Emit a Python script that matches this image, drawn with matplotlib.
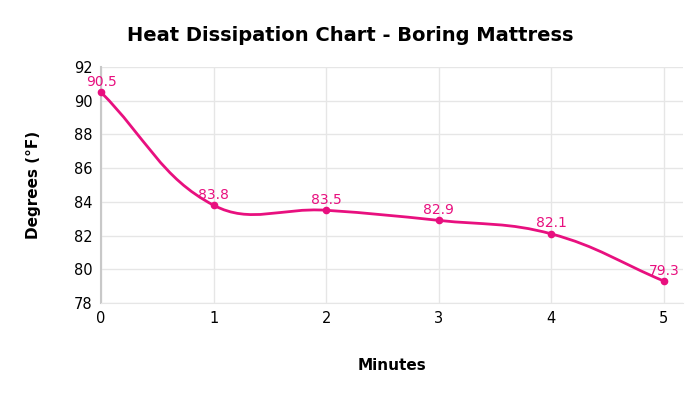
import numpy as np
import matplotlib
matplotlib.use("Agg")
import matplotlib.pyplot as plt
from matplotlib.path import Path
from matplotlib.patches import PathPatch

minutes = [0, 1, 2, 3, 4, 5]
degrees = [90.5, 83.8, 83.5, 82.9, 82.1, 79.3]
labels = ["90.5", "83.8", "83.5", "82.9", "82.1", "79.3"]
yticks = [78, 80, 82, 84, 86, 88, 90, 92]

pink = "#e8107f"
plt.rcParams['font.family'] = ['DejaVu Sans']

fig = plt.figure(figsize=(7, 3.94), dpi=100)
ax = fig.add_axes([0.1443, 0.231, 0.8314, 0.599])
ax.set_xlim(0, 5.17)
ax.set_ylim(78, 92)
ax.set_yticks(yticks)
ax.set_xticks(minutes)
ax.grid(True, color="#e6e6e6", linewidth=1)
ax.set_axisbelow(True)
for s in ["top", "right"]:
    ax.spines[s].set_visible(False)
ax.spines["left"].set_color("#c8c8c8")
ax.spines["left"].set_linewidth(1.5)
ax.spines["bottom"].set_color("#e6e6e6")
ax.tick_params(length=0, labelsize=10.5, colors="black", pad=6)

# Chart.js-style cardinal spline in pixel space
fig.canvas.draw()
pts = ax.transData.transform(np.column_stack([minutes, degrees]))
t = 0.4
n = len(pts)
verts = [tuple(pts[0])]
codes = [Path.MOVETO]
cps = []
for i in range(n):
    prev = pts[max(i - 1, 0)]
    cur = pts[i]
    nxt = pts[min(i + 1, n - 1)]
    d01 = np.hypot(*(cur - prev))
    d12 = np.hypot(*(nxt - cur))
    tot = d01 + d12
    s01 = d01 / tot if tot else 0
    s12 = d12 / tot if tot else 0
    fa, fb = t * s01, t * s12
    cps.append((cur - fa * (nxt - prev), cur + fb * (nxt - prev)))
for i in range(1, n):
    verts += [tuple(cps[i - 1][1]), tuple(cps[i][0]), tuple(pts[i])]
    codes += [Path.CURVE4] * 3
inv = ax.transData.inverted()
verts_d = inv.transform(np.array(verts))
ax.add_patch(PathPatch(Path(verts_d, codes), facecolor="none", edgecolor=pink,
                       linewidth=2, clip_on=False))
ax.plot(minutes, degrees, "o", color=pink, markersize=4.5, clip_on=False, zorder=3)
for x, y, l in zip(minutes, degrees, labels):
    ax.annotate(l, (x, y), xytext=(0, 2.5), textcoords="offset points",
                ha="center", va="bottom", color=pink, fontsize=10)

fig.text(0.5, 0.91, "Heat Dissipation Chart - Boring Mattress", ha="center",
         va="center", fontsize=14, fontweight="bold")
ax.set_xlabel("Minutes", fontsize=11, fontweight="bold", labelpad=23)
ax.set_ylabel("Degrees (°F)", fontsize=11, fontweight="bold", labelpad=24)

fig.savefig("out.png", dpi=100)
